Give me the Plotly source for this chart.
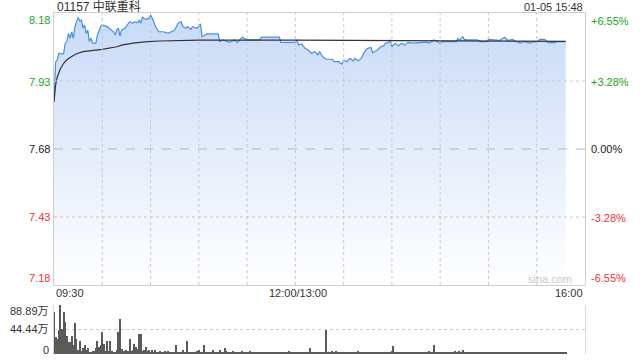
import plotly.graph_objects as go

# ---------------- data ----------------
# minutes since 09:30 (trading minutes, lunch break removed; 330 = 16:00)
price_min = [0, 1, 2, 3, 5, 6, 7, 8, 9, 10, 11, 12, 13, 14, 15, 16, 17, 18, 19, 20,
             21, 22, 23, 24, 26, 27, 28, 29, 30, 33, 35, 37, 38, 39, 40, 41, 42, 44, 45, 47,
             49, 50, 52, 53, 54, 55, 56, 57, 59, 60, 62, 63, 65, 68, 71, 73, 75, 77, 79, 80,
             82, 83, 85, 86, 89, 91, 92, 95, 102, 103, 105, 109, 112, 114, 117, 120, 128, 129, 140, 141,
             150, 151, 152, 154, 156, 158, 160, 162, 164, 165, 167, 169, 173, 174, 177, 179, 180, 182, 184, 186,
             187, 189, 191, 193, 195, 197, 198, 201, 203, 205, 206, 208, 209, 210, 212, 214, 216, 218, 220, 223,
             228, 232, 233, 236, 238, 240, 241, 250, 251, 252, 254, 255, 257, 263, 265, 269, 270, 273, 277, 280,
             282, 285, 287, 290, 292, 296, 298, 300, 302, 305, 307, 309, 311, 313, 318]
price_val = [7.854, 7.999, 8.007, 8.032, 8.029, 8.032, 8.069, 8.075, 8.105, 8.087, 8.111, 8.087, 8.130, 8.145, 8.164, 8.150, 8.154, 8.124, 8.136, 8.105,
             8.117, 8.075, 8.087, 8.069, 8.069, 8.099, 8.117, 8.130, 8.136, 8.130, 8.120, 8.111, 8.099, 8.117, 8.124, 8.095, 8.117, 8.124, 8.132, 8.148,
             8.142, 8.148, 8.144, 8.154, 8.142, 8.166, 8.160, 8.157, 8.160, 8.173, 8.148, 8.130, 8.111, 8.111, 8.105, 8.110, 8.117, 8.142, 8.148, 8.130,
             8.124, 8.130, 8.120, 8.130, 8.124, 8.140, 8.093, 8.103, 8.103, 8.075, 8.081, 8.072, 8.081, 8.072, 8.091, 8.081, 8.081, 8.091, 8.091, 8.072,
             8.072, 8.081, 8.062, 8.066, 8.050, 8.044, 8.032, 8.038, 8.026, 8.038, 8.019, 8.010, 8.010, 8.001, 8.001, 7.992, 8.007, 8.001, 8.013, 8.004,
             8.013, 8.004, 8.013, 8.038, 8.050, 8.053, 8.034, 8.044, 8.056, 8.060, 8.069, 8.072, 8.081, 8.056, 8.069, 8.060, 8.069, 8.062, 8.072, 8.069,
             8.072, 8.073, 8.069, 8.081, 8.075, 8.069, 8.075, 8.075, 8.087, 8.080, 8.093, 8.083, 8.081, 8.081, 8.075, 8.075, 8.083, 8.081, 8.079, 8.091,
             8.079, 8.083, 8.075, 8.069, 8.075, 8.069, 8.075, 8.073, 8.083, 8.083, 8.070, 8.072, 8.070, 8.075, 8.075]

avg_min = [0, 1, 2, 4, 6, 8, 11, 14, 18, 22, 30, 39, 42, 49, 58, 66, 90, 150, 200, 318]
avg_val = [7.854, 7.915, 7.945, 7.975, 7.995, 8.008, 8.020, 8.030, 8.038, 8.041, 8.046, 8.056, 8.062, 8.069, 8.075, 8.077, 8.080, 8.080, 8.078, 8.076]

# volume per minute, in 万
volume = ([77, 31, 28, 44, 89, 45, 76, 58, 32, 22, 22, 32, 17, 56, 27, 8, 24, 5, 11, 17,
           8, 10, 4, 4, 5, 6, 10, 24, 13, 17, 40, 18, 6, 23, 5, 24, 5, 4, 4, 8,
           40, 63, 9, 5, 5, 8, 5, 27, 5, 8, 18, 13, 9, 36, 37, 5, 8, 13, 5, 8,
           4, 8, 4]
          + [8, 3, 4, 6, 3, 2, 5]
          + [3, 6, 4, 3, 2, 4, 17, 3, 4, 2]
          + [7, 3, 4, 23, 3, 2, 4, 3, 2, 5]
          + [7, 3, 4, 17, 3, 2, 4, 3, 2, 7]
          + [3, 4, 2, 7, 4, 3, 11, 6, 3, 4]
          + [2, 5, 4, 3, 4, 2, 3, 5, 2, 3]
          + [4, 3, 6, 2, 3, 4, 2, 3, 2, 4]
          + [3, 2, 3, 4, 2, 3, 2, 4, 3, 2]
          + [3, 4, 2, 3, 2, 3, 5, 2, 3, 2]
          + [2, 3, 2, 4, 2, 3, 2, 3, 2, 10]
          + [3, 2, 4, 3, 2, 3, 2, 4, 3, 44]
          + [3, 4, 2, 5, 3, 6, 2, 3, 2, 4]
          + [3, 2, 3, 4, 2, 3, 2, 3, 4, 6]
          + [2, 3, 2, 4, 3, 2, 3, 4, 2, 3]
          + [4, 2, 3, 2, 4, 3, 2, 3, 4, 3]
          + [5, 14, 3, 2, 3, 4, 2, 3, 2, 4]
          + [3, 2, 3, 4, 2, 3, 4, 2, 3, 2]
          + [3, 4, 2, 6, 3, 2, 17, 3, 4, 2]
          + [3, 4, 2, 3, 4, 3, 2, 4, 3, 5]
          + [4, 3, 5, 4, 8, 3, 2, 3, 2, 2]
          + [3, 2, 2, 3, 2, 3, 2, 2, 3, 2]
          + [2, 3, 2, 2, 3, 2, 3, 2, 2, 3]
          + [2, 3, 2, 2, 3, 2, 3, 2, 3, 2]
          + [2, 3, 2, 3, 4, 2, 3, 2, 3, 4]
          + [3, 2, 3, 4, 3, 2, 4, 3, 2, 3]
          + [4, 3, 4, 3, 2, 3, 2, 3, 3])
vol_min = list(range(len(volume)))

price_ticks = [8.18, 7.93, 7.68, 7.43, 7.18]
price_labels = ["8.18", "7.93", "7.68", "7.43", "7.18"]
pct_labels = ["+6.55%", "+3.28%", "0.00%", "-3.28%", "-6.55%"]
prev_close = 7.68
time_grid = list(range(30, 330, 30))
time_labels = ["09:30", "12:00/13:00", "16:00"]
time_label_pos = [0, 150, 330]
vol_ticks = [88.89, 44.44, 0]
vol_labels = ["88.89万", "44.44万", "0"]
title_text = "01157 中联重科"
stamp_text = "01-05 15:48"

# ---------------- style ----------------
GREEN = "#22a322"
RED = "#f03333"
BLACK = "#222222"
FONT = "Arial, Liberation Sans, Noto Sans CJK SC, sans-serif"
W, H = 640, 360
ML, MR, MT, MB = 54, 55, 13, 6
PH = H - MT - MB


def py(ypix):
    return (H - MB - ypix) / PH


def label_color(v):
    if v > prev_close + 1e-9:
        return GREEN
    if v < prev_close - 1e-9:
        return RED
    return BLACK


fig = go.Figure()

fig.add_trace(go.Scatter(
    x=price_min, y=price_val, mode="lines",
    line=dict(color="#4a8de6", width=1.2),
    fill="tozeroy",
    fillgradient=dict(type="vertical", start=7.18, stop=8.18,
                      colorscale=[[0, "rgb(255,255,255)"], [1, "rgb(200,218,247)"]]),
    hoverinfo="skip", showlegend=False, xaxis="x", yaxis="y"))

fig.add_trace(go.Scatter(
    x=avg_min, y=avg_val, mode="lines",
    line=dict(color="#333333", width=1.2),
    hoverinfo="skip", showlegend=False, xaxis="x", yaxis="y"))

fig.add_trace(go.Bar(
    x=vol_min, y=volume, width=0.7,
    marker=dict(color="#5a5a5a", line=dict(width=0)),
    hoverinfo="skip", showlegend=False, xaxis="x2", yaxis="y2"))

shapes = []
for m in time_grid:
    shapes.append(dict(type="line", xref="x", yref="y", x0=m, x1=m, y0=7.18, y1=8.18,
                       line=dict(color="#c8c8c8", width=1, dash="dot"), layer="above"))
for v in price_ticks[1:-1]:
    if abs(v - prev_close) < 1e-9:
        shapes.append(dict(type="line", xref="x", yref="y", x0=0, x1=330, y0=v, y1=v,
                           line=dict(color="#b4b4b4", width=1, dash="dash"), layer="above"))
    else:
        shapes.append(dict(type="line", xref="x", yref="y", x0=0, x1=330, y0=v, y1=v,
                           line=dict(color="#c8c8c8", width=1, dash="dot"), layer="above"))

ann = []
left_ypix = [20.5, 82, 149, 217, 278]
right_ypix = [21, 82, 149, 218, 278]
for v, lab, pct, yl, yr in zip(price_ticks, price_labels, pct_labels, left_ypix, right_ypix):
    c = label_color(v)
    ann.append(dict(text=lab, xref="paper", yref="paper", x=0, y=py(yl), xanchor="right",
                    yanchor="middle", xshift=-2, showarrow=False, font=dict(size=11, color=c, family=FONT)))
    ann.append(dict(text=pct, xref="paper", yref="paper", x=1, y=py(yr), xanchor="left",
                    yanchor="middle", xshift=4, showarrow=False, font=dict(size=11, color=c, family=FONT)))

anchors = ["left", "center", "right"]
shifts = [0, 3, 0]
for lab, pos, a, s in zip(time_labels, time_label_pos, anchors, shifts):
    ann.append(dict(text=lab, xref="x", yref="paper", x=pos, y=py(293), xanchor=a, yanchor="middle",
                    xshift=s, showarrow=False, font=dict(size=11, color="#333333", family=FONT)))

vol_ypix = [311, 329, 349.5]
for lab, yp in zip(vol_labels, vol_ypix):
    ann.append(dict(text=lab, xref="paper", yref="paper", x=0, y=py(yp), xanchor="right",
                    yanchor="middle", xshift=-3, showarrow=False, font=dict(size=11, color="#333333", family=FONT)))

ann.append(dict(text=title_text, xref="paper", yref="paper", x=0, y=py(6.5), xanchor="left",
                yanchor="middle", xshift=1, showarrow=False, font=dict(size=12, color="#333333", family=FONT)))
ann.append(dict(text=stamp_text, xref="paper", yref="paper", x=1, y=py(6.5), xanchor="right",
                yanchor="middle", showarrow=False, font=dict(size=11, color="#333333", family=FONT)))
ann.append(dict(text="sina.com", xref="x", yref="paper", x=330, y=py(279), xanchor="right",
                yanchor="middle", xshift=-11, showarrow=False, font=dict(size=11, color="#c8c8c8", family=FONT)))

fig.update_layout(
    width=W, height=H,
    margin=dict(l=ML, r=MR, t=MT, b=MB),
    paper_bgcolor="white", plot_bgcolor="white",
    showlegend=False, bargap=0,
    shapes=shapes, annotations=ann,
    xaxis=dict(domain=[0, 1], range=[0, 330], anchor="y", showgrid=False, zeroline=False,
               showticklabels=False, ticks="", showline=True, mirror=True, linecolor="#cfcfcf", linewidth=1),
    yaxis=dict(domain=[py(285), 1], range=[7.18, 8.18], anchor="x", showgrid=False, zeroline=False,
               showticklabels=False, ticks="", showline=True, mirror=True, linecolor="#cfcfcf", linewidth=1),
    xaxis2=dict(domain=[0, 1], range=[0, 330], anchor="y2", showgrid=False, zeroline=False,
                showticklabels=False, ticks="", showline=False),
    yaxis2=dict(domain=[0, py(305)], range=[0, 88.89], anchor="x2", tickvals=vol_ticks[:2],
                showgrid=True, gridcolor="#cccccc", griddash="dot", gridwidth=1, zeroline=False,
                showticklabels=False, ticks="", showline=True, mirror=True, linecolor="#d8d8d8", linewidth=1),
)

fig.write_html("out.html")
